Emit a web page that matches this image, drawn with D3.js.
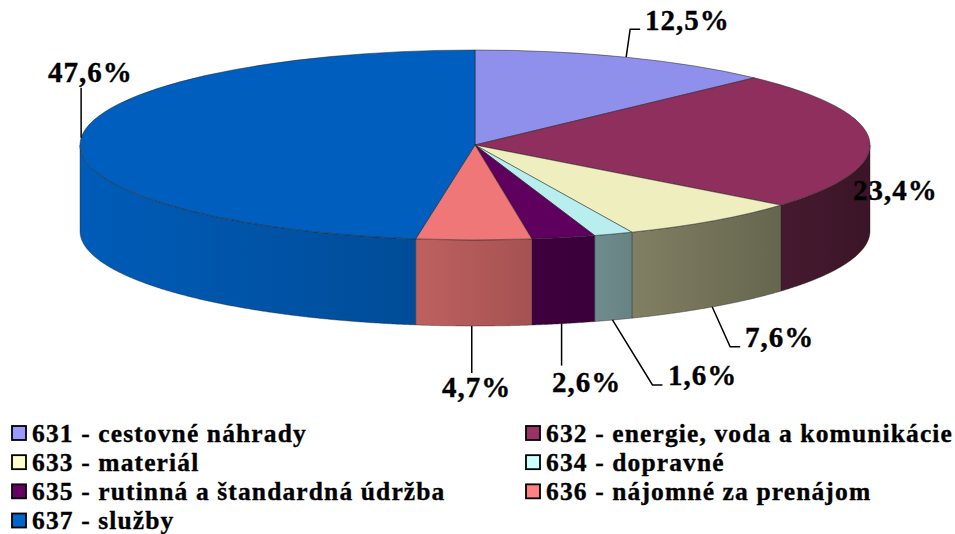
<!DOCTYPE html>
<html>
<head>
<meta charset="utf-8">
<script src="https://cdn.jsdelivr.net/npm/d3@7"></script>
<style>
html, body { margin: 0; padding: 0; background: #fff; }
svg { display: block; }
text { font-family: "Liberation Serif", serif; font-weight: bold; fill: #000; stroke: #000; stroke-width: 0.35px; }
.data_labels { font-size: 29px; letter-spacing: 1px; }
.legend_labels { font-size: 25.5px; letter-spacing: 1.13px; }
</style>
</head>
<body>
<svg id="svg-pie" width="955" height="534"></svg>
<script>
var categories = ["631 - cestovné náhrady", "632 - energie, voda a komunikácie", "633 - materiál",
                  "634 - dopravné", "635 - rutinná a štandardná údržba", "636 - nájomné za prenájom", "637 - služby"];
var values = [12.5, 23.4, 7.6, 1.6, 2.6, 4.7, 47.6];
var value_labels = ["12,5%", "23,4%", "7,6%", "1,6%", "2,6%", "4,7%", "47,6%"];
var legend_colors = ["#9999ff", "#993366", "#ffffcc", "#ccffff", "#660066", "#ff8080", "#0066cc"];
var top_colors = ["#8f8fec", "#8e2f5d", "#eeeebf", "#b8eeee", "#5f005f", "#ef7777", "#005fbe"];
var side_left = ["#55558f", "#451a30", "#817f63", "#6f8c8c", "#3e003e", "#bf6060", "#005cb8"];
var side_right = ["#55558f", "#3b1427", "#66664f", "#688282", "#3a003a", "#a55252", "#004c98"];

var svg = d3.select("#svg-pie");
var cx = 475, cy = 145, rx = 395, ry = 95, depth = 86;

var pie = d3.pie().sort(null).value(function(d) { return d; });
var slices = pie(values);

function px(a) { return cx + rx*Math.sin(a); }
function py(a) { return cy - ry*Math.cos(a); }

// sides, only the front half of the ellipse shows
var defs = svg.append("defs");
slices.forEach(function(d, i) {
  var g = defs.append("linearGradient").attr("id", "side" + i);
  g.append("stop").attr("offset", "0%").attr("stop-color", side_left[i]);
  g.append("stop").attr("offset", "100%").attr("stop-color", side_right[i]);
});
var sideLine = d3.line()
  .x(function(d) { return d[0]; })
  .y(function(d) { return d[1]; });
function sidePath(d) {
  var a0 = Math.max(d.startAngle, Math.PI/2);
  var a1 = Math.min(d.endAngle, Math.PI*1.5);
  if (a1 <= a0) return null;
  var angles = d3.range(a0, a1, 0.004).concat([a1]);
  var pts = angles.map(function(a) { return [px(a), py(a)]; });
  var pts2 = angles.slice().reverse().map(function(a) { return [px(a), py(a) + depth]; });
  return sideLine(pts.concat(pts2)) + "Z";
}
svg.selectAll("side")
  .data(slices)
  .enter()
  .append("path")
  .attr("d", sidePath)
  .style("fill", function(d, i) { return "url(#side" + i + ")"; })
  .style("stroke", "#222")
  .style("stroke-opacity", 0.4)
  .style("stroke-width", 1);

// top face, a circle squashed into the ellipse
var arc = d3.arc().innerRadius(0).outerRadius(rx);
svg.append("g")
  .attr("transform", "translate(" + cx + "," + cy + ") scale(1," + (ry/rx) + ")")
  .selectAll("top")
  .data(slices)
  .enter()
  .append("path")
  .attr("d", arc)
  .style("fill", function(d, i) { return top_colors[i]; })
  .style("stroke", "#222")
  .style("stroke-opacity", 0.5)
  .style("stroke-width", 1)
  .style("vector-effect", "non-scaling-stroke");

// leader lines, offsets from the middle of each slice edge
var leader_dx = [0, 0, -1, -1, -2, -2, 0];
var leaders = [[[4, -28], [14, -28]], null, [[18, 40], [28, 40]], [[40, 65], [50, 65]], [[0, 42]], [[0, 47]], [[0, -50]]];
slices.forEach(function(d, i) {
  if (!leaders[i]) return;
  var a = (d.startAngle + d.endAngle)/2;
  var x0 = px(a) + leader_dx[i], y0 = py(a);
  if (Math.cos(a) < 0) y0 += depth;
  var pts = [[x0, y0]].concat(leaders[i].map(function(o) { return [x0 + o[0], y0 + o[1]]; }));
  svg.append("path")
    .attr("d", sideLine(pts))
    .style("fill", "none")
    .style("stroke", "#000")
    .style("stroke-width", 1.5);
});

var label_x = [645, 853, 745, 668, 552, 442, 48];
var label_y = [30, 200, 347, 385, 392, 397, 82];
svg.selectAll("data_labels")
  .data(value_labels)
  .enter()
  .append("text")
  .attr("class", "data_labels")
  .attr("x", function(d, i) { return label_x[i]; })
  .attr("y", function(d, i) { return label_y[i]; })
  .text(function(d) { return d; });

// legend, two columns
var rowY = d3.scalePoint().domain(d3.range(4)).range([433, 520.5]);
svg.selectAll("legend_box")
  .data(categories)
  .enter()
  .append("rect")
  .attr("x", function(d, i) { return i % 2 ? 526 : 12; })
  .attr("y", function(d, i) { return rowY(Math.floor(i/2)) - 7; })
  .attr("width", 14)
  .attr("height", 14)
  .style("fill", function(d, i) { return legend_colors[i]; })
  .style("stroke", "#000")
  .style("stroke-width", 1.8);
svg.selectAll("legend_labels")
  .data(categories)
  .enter()
  .append("text")
  .attr("class", "legend_labels")
  .attr("x", function(d, i) { return i % 2 ? 546 : 32; })
  .attr("y", function(d, i) { return rowY(Math.floor(i/2)) + 8.5; })
  .text(function(d) { return d; });
</script>
</body>
</html>
